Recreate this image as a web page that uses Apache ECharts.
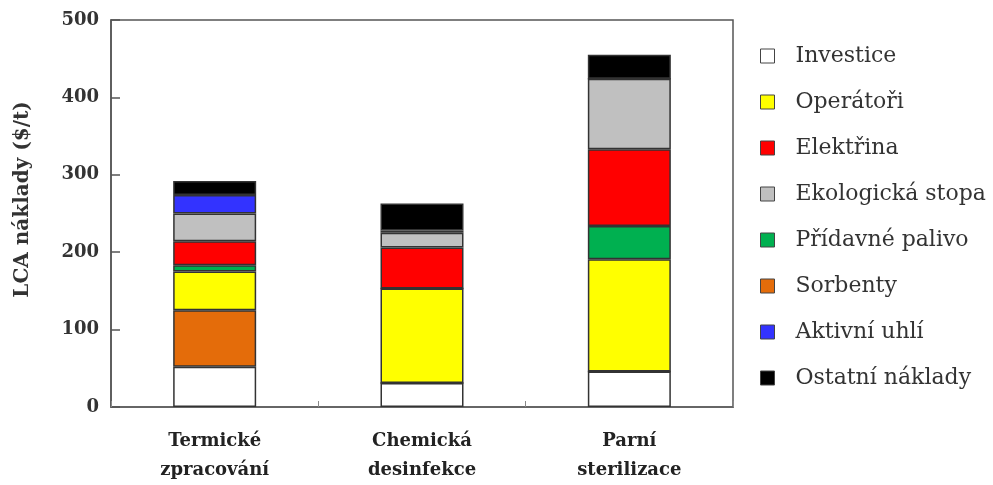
<!DOCTYPE html>
<html>
<head>
<meta charset="utf-8">
<script src="https://cdn.jsdelivr.net/npm/echarts@6/dist/echarts.min.js"></script>
<style>
  html, body { margin: 0; padding: 0; background: #fff; }
  #chart { width: 993px; height: 485px; }
</style>
</head>
<body>
<div id="chart"></div>
<script>
// kategorie na ose x
const categories = ['Termické\nzpracování', 'Chemická\ndesinfekce', 'Parní\nsterilizace']

// hodnoty jednotlivých složek ($/t)
const investice = [52, 31, 46]
const sorbenty = [73, 0, 0]
const operatori = [50, 122, 145]
const palivo = [8, 0, 43]
const elektrina = [31, 53, 99]
const ekostopa = [36, 19, 91]
const uhli = [24, 3, 0]
const ostatni = [18, 35, 31]

const yTicks = [0, 100, 200, 300, 400, 500]

// pořadí v legendě (jiné než pořadí ve sloupci)
const legendOrder = ['Investice', 'Operátoři', 'Elektřina', 'Ekologická stopa', 'Přídavné palivo', 'Sorbenty', 'Aktivní uhlí', 'Ostatní náklady']

const serif = '"DejaVu Serif", "Liberation Serif", serif'

const stackDefs = [
  { name: 'Investice', data: investice, color: '#ffffff' },
  { name: 'Sorbenty', data: sorbenty, color: '#e46c0a' },
  { name: 'Operátoři', data: operatori, color: '#ffff00' },
  { name: 'Přídavné palivo', data: palivo, color: '#00b050' },
  { name: 'Elektřina', data: elektrina, color: '#ff0000' },
  { name: 'Ekologická stopa', data: ekostopa, color: '#c0c0c0' },
  { name: 'Aktivní uhlí', data: uhli, color: '#3333ff' },
  { name: 'Ostatní náklady', data: ostatni, color: '#000000' },
]

const chart = echarts.init(document.getElementById('chart'))

chart.setOption({
  animation: false,
  grid: {
    left: 111, right: 260, top: 20, bottom: 75,
    show: true, borderColor: '#555', borderWidth: 1.5,
  },
  legend: {
    orient: 'vertical',
    left: 755,
    top: 40,
    itemWidth: 14,
    itemHeight: 14,
    itemGap: 24,
    data: legendOrder.map((n) => ({ name: n, icon: 'rect' })),
    itemStyle: { borderColor: '#444', borderWidth: 1 },
    textStyle: { fontFamily: serif, fontSize: 22, color: '#333', padding: [0, 0, 0, 16] },
  },
  xAxis: {
    type: 'category',
    data: categories,
    axisLine: { lineStyle: { color: '#666', width: 2 } },
    axisTick: { show: true, inside: true, length: 6, lineStyle: { color: '#888' } },
    axisLabel: {
      fontFamily: serif, fontWeight: 'bold', fontSize: 18, color: '#222',
      lineHeight: 29, margin: 20,
    },
  },
  yAxis: {
    type: 'value',
    min: yTicks[0],
    max: yTicks[yTicks.length - 1],
    interval: 100,
    name: 'LCA náklady ($/t)',
    nameLocation: 'middle',
    nameGap: 78,
    nameTextStyle: { fontFamily: serif, fontWeight: 'bold', fontSize: 20, color: '#333', padding: [0, 0, 0, 28] },
    axisLine: { show: true, lineStyle: { color: '#555', width: 1.5 } },
    axisTick: { show: true, inside: true, length: 9, lineStyle: { color: '#555', width: 1.5 } },
    splitLine: { show: false },
    axisLabel: { fontFamily: serif, fontWeight: 'bold', fontSize: 18, color: '#333', margin: 12 },
  },
  series: stackDefs.map((s) => ({
    name: s.name,
    type: 'bar',
    stack: 'lca',
    barWidth: 83,
    data: s.data,
    itemStyle: { color: s.color, borderColor: '#333', borderWidth: 1.5 },
  })),
})
</script>
</body>
</html>
